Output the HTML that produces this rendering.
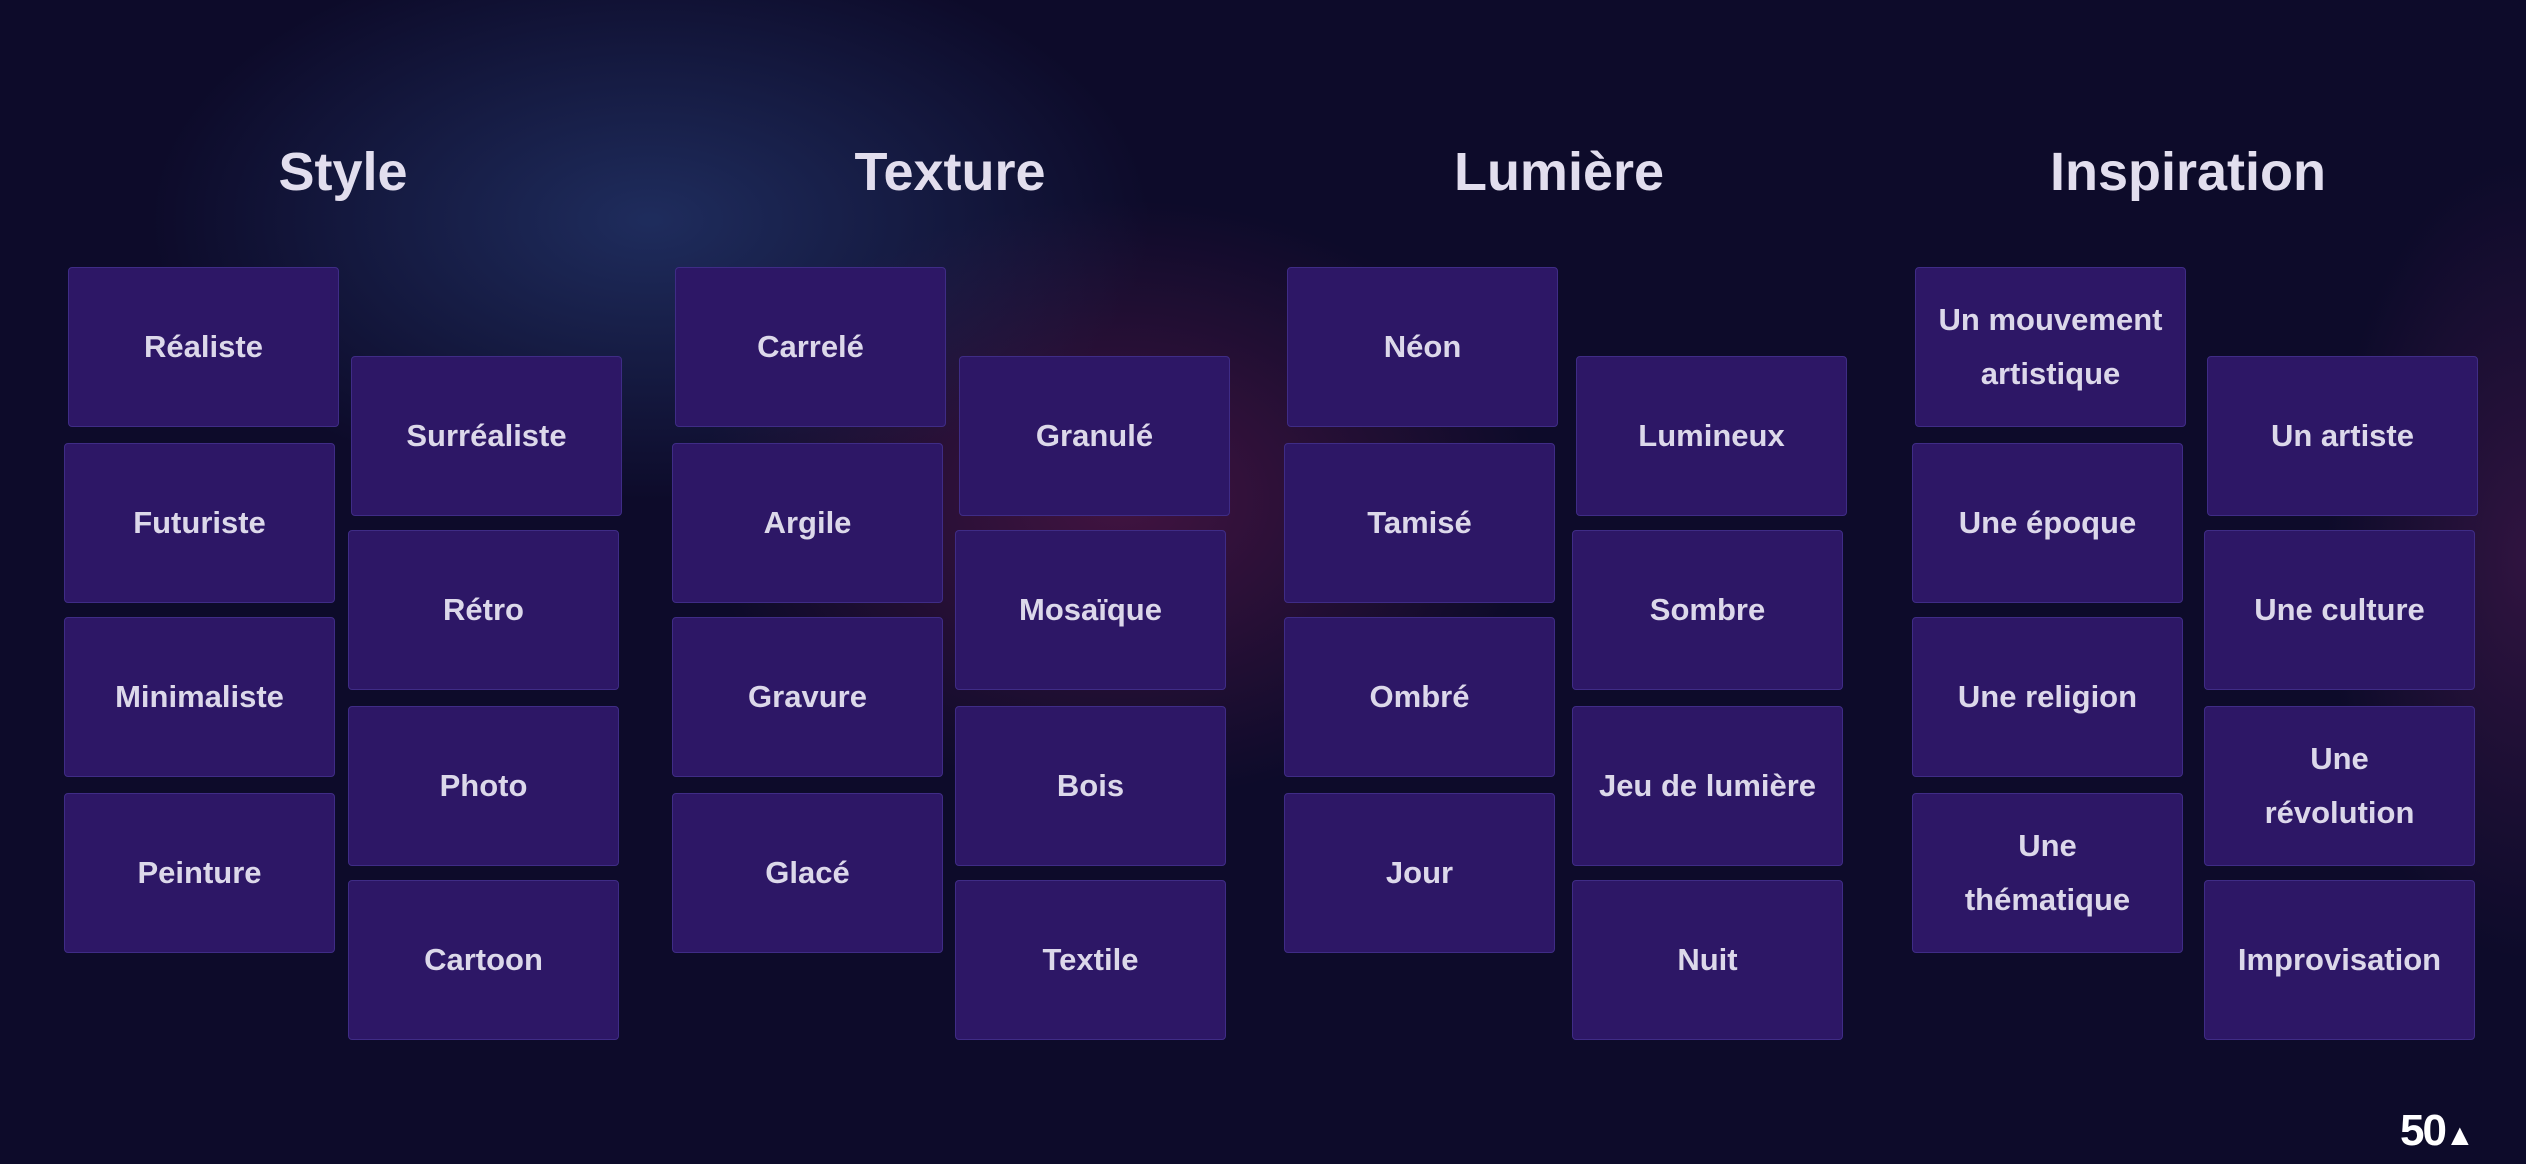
<!DOCTYPE html>
<html><head><meta charset="utf-8"><style>
html,body{margin:0;padding:0}
body{width:2526px;height:1164px;overflow:hidden;position:relative;font-family:"Liberation Sans","DejaVu Sans",sans-serif;
background:
radial-gradient(ellipse 500px 280px at 650px 220px, rgba(40,62,120,0.65), rgba(40,62,120,0) 100%),
radial-gradient(ellipse 420px 300px at 1120px 500px, rgba(100,25,80,0.6), rgba(100,25,80,0) 100%),
radial-gradient(ellipse 200px 400px at 2526px 560px, rgba(90,30,90,0.45), rgba(90,30,90,0) 100%),
#0d0b2a;}
.t{position:absolute;top:140px;width:400px;margin-left:-200px;text-align:center;color:#e2deee;font-weight:bold;font-size:54px;line-height:64px}
.b{position:absolute;width:271px;height:160px;background:#2d1766;border:1px solid #3f2c86;border-radius:4px;display:flex;align-items:center;justify-content:center;text-align:center;color:#dcd8ea;font-weight:bold;font-size:31px;line-height:54px;box-sizing:border-box;padding:0 8px}
.logo{position:absolute;left:2400px;top:1106px;color:#fff;font-weight:bold;font-size:44px;letter-spacing:-2px}
</style></head><body>
<div class="t" style="left:343px">Style</div>
<div class="t" style="left:950px">Texture</div>
<div class="t" style="left:1559px">Lumière</div>
<div class="t" style="left:2188px">Inspiration</div>

<div class="b" style="left:68px;top:267px">Réaliste</div>
<div class="b" style="left:64px;top:443px">Futuriste</div>
<div class="b" style="left:64px;top:617px">Minimaliste</div>
<div class="b" style="left:64px;top:793px">Peinture</div>
<div class="b" style="left:351px;top:356px">Surréaliste</div>
<div class="b" style="left:348px;top:530px">Rétro</div>
<div class="b" style="left:348px;top:706px">Photo</div>
<div class="b" style="left:348px;top:880px">Cartoon</div>

<div class="b" style="left:675px;top:267px">Carrelé</div>
<div class="b" style="left:672px;top:443px">Argile</div>
<div class="b" style="left:672px;top:617px">Gravure</div>
<div class="b" style="left:672px;top:793px">Glacé</div>
<div class="b" style="left:959px;top:356px">Granulé</div>
<div class="b" style="left:955px;top:530px">Mosaïque</div>
<div class="b" style="left:955px;top:706px">Bois</div>
<div class="b" style="left:955px;top:880px">Textile</div>

<div class="b" style="left:1287px;top:267px">Néon</div>
<div class="b" style="left:1284px;top:443px">Tamisé</div>
<div class="b" style="left:1284px;top:617px">Ombré</div>
<div class="b" style="left:1284px;top:793px">Jour</div>
<div class="b" style="left:1576px;top:356px">Lumineux</div>
<div class="b" style="left:1572px;top:530px">Sombre</div>
<div class="b" style="left:1572px;top:706px">Jeu de lumière</div>
<div class="b" style="left:1572px;top:880px">Nuit</div>

<div class="b" style="left:1915px;top:267px">Un mouvement artistique</div>
<div class="b" style="left:1912px;top:443px">Une époque</div>
<div class="b" style="left:1912px;top:617px">Une religion</div>
<div class="b" style="left:1912px;top:793px">Une<br>thématique</div>
<div class="b" style="left:2207px;top:356px">Un artiste</div>
<div class="b" style="left:2204px;top:530px">Une culture</div>
<div class="b" style="left:2204px;top:706px">Une<br>révolution</div>
<div class="b" style="left:2204px;top:880px">Improvisation</div>

<div class="logo">50<span style="font-size:30px">▲</span></div>
</body></html>
